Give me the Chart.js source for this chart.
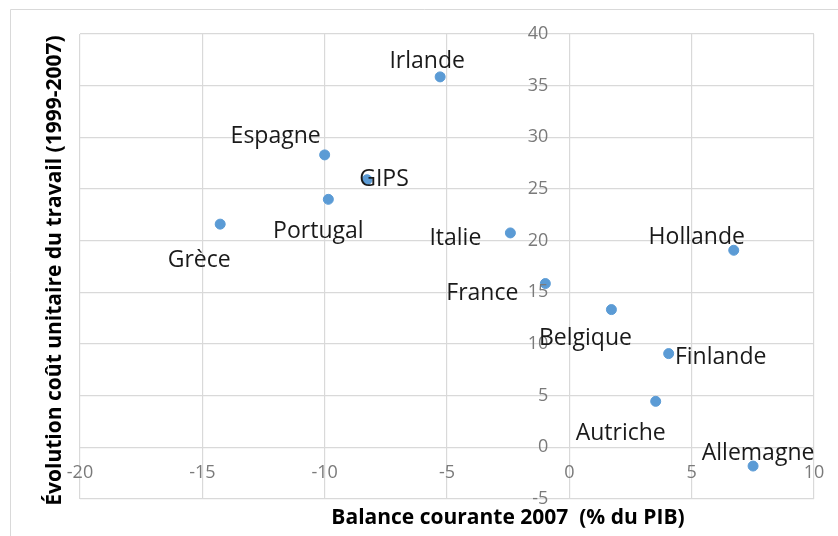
<!DOCTYPE html>
<html lang="fr">
<head>
    <meta charset="UTF-8">
    <title>Balance courante et coût unitaire du travail</title>
    <script src="https://cdn.jsdelivr.net/npm/chart.js@4.4.1/dist/chart.umd.min.js"></script>
    <style>
        body {
            margin: 0;
            background-color: white;
        }

        .container {
            position: relative;
            width: 838px;
            height: 536px;
        }
    </style>
</head>
<body>
    <div class="container">
        <canvas id="scatterChart"></canvas>
    </div>

    <script>
        // Data
        var countries = ['Irlande', 'Espagne', 'GIPS', 'Portugal', 'Grèce', 'Italie',
                         'Hollande', 'France', 'Belgique', 'Finlande', 'Autriche', 'Allemagne'];
        var balance2007 = [-5.28, -10.0, -8.27, -9.85, -14.27, -2.41, 6.72, -0.98, 1.72, 4.06, 3.53, 7.51];
        var coutTravail = [35.85, 28.3, 25.9, 24.0, 21.6, 20.75, 19.07, 15.85, 13.33, 9.07, 4.45, -1.81];
        var xTicks = [-20, -15, -10, -5, 0, 5, 10];
        var yTicks = [-5, 0, 5, 10, 15, 20, 25, 30, 35, 40];

        var xTitle = 'Balance courante 2007  (% du PIB)';
        var yTitle = 'Évolution coût unitaire du travail (1999-2007)';

        // where each name sits relative to its dot (px)
        var labelOffsets = [[-13, -15], [-49, -18], [17, 0], [-10, 32], [-21, 36], [-55, 6],
                            [-37, -13], [-63, 10], [-26, 29], [52, 4], [-35, 32], [5, -13]];

        var fontFamily = "'Open Sans', 'Noto Sans', sans-serif";

        var points = balance2007.map(function (x, i) {
            return { x: x, y: coutTravail[i] };
        });

        // Tick labels at the axes crossing, frame, titles and point names
        var decorPlugin = {
            id: 'decor',
            beforeDraw: function (chart) {
                var ctx = chart.ctx;
                ctx.save();
                ctx.strokeStyle = '#d9d9d9';
                ctx.lineWidth = 1;
                ctx.beginPath();
                ctx.moveTo(10.5, chart.height);
                ctx.lineTo(10.5, 9.5);
                ctx.lineTo(chart.width, 9.5);
                ctx.stroke();
                ctx.restore();
            },
            afterDatasetsDraw: function (chart) {
                var ctx = chart.ctx;
                var xs = chart.scales.x;
                var ys = chart.scales.y;
                var area = chart.chartArea;
                var x0 = xs.getPixelForValue(0);
                var y0 = ys.getPixelForValue(0);

                ctx.save();
                ctx.fillStyle = '#7a7a7a';
                ctx.font = '18px ' + fontFamily;
                ctx.textAlign = 'right';
                ctx.textBaseline = 'middle';
                yTicks.forEach(function (v) {
                    ctx.fillText(String(v), x0 - 21, ys.getPixelForValue(v));
                });
                ctx.textAlign = 'center';
                xTicks.forEach(function (v) {
                    ctx.fillText(String(v), xs.getPixelForValue(v), y0 + 26);
                });

                ctx.fillStyle = '#1a1a1a';
                ctx.font = '23px ' + fontFamily;
                chart.getDatasetMeta(0).data.forEach(function (pt, i) {
                    var off = labelOffsets[i];
                    ctx.fillText(countries[i], pt.x + off[0], pt.y + off[1]);
                });

                ctx.fillStyle = '#000000';
                ctx.font = 'bold 21px ' + fontFamily;
                ctx.fillText(xTitle, (area.left + area.right) / 2 + 61, area.bottom + 19);
                ctx.translate(55, (area.top + area.bottom) / 2 + 4);
                ctx.rotate(-Math.PI / 2);
                ctx.fillText(yTitle, 0, 0);
                ctx.restore();
            }
        };

        var ctx = document.getElementById('scatterChart').getContext('2d');
        var chart = new Chart(ctx, {
            type: 'scatter',
            data: {
                datasets: [{
                    label: 'Pays',
                    data: points,
                    backgroundColor: '#5b9bd5',
                    borderColor: '#5b9bd5',
                    pointRadius: 5,
                    pointHoverRadius: 5
                }]
            },
            options: {
                responsive: true,
                maintainAspectRatio: false,
                animation: false,
                layout: {
                    padding: { left: 80, top: 34, right: 24, bottom: 37 }
                },
                plugins: {
                    legend: { display: false },
                    tooltip: { enabled: false }
                },
                scales: {
                    x: {
                        type: 'linear',
                        min: -20,
                        max: 10,
                        afterBuildTicks: function (axis) {
                            axis.ticks = xTicks.map(function (v) { return { value: v }; });
                        },
                        ticks: { display: false },
                        border: { display: false },
                        grid: { color: '#d9d9d9', lineWidth: 1.2, drawTicks: false }
                    },
                    y: {
                        type: 'linear',
                        min: -5,
                        max: 40,
                        afterBuildTicks: function (axis) {
                            axis.ticks = yTicks.map(function (v) { return { value: v }; });
                        },
                        ticks: { display: false },
                        border: { display: false },
                        grid: { color: '#d9d9d9', lineWidth: 1.2, drawTicks: false }
                    }
                }
            },
            plugins: [decorPlugin]
        });
    </script>
</body>
</html>
